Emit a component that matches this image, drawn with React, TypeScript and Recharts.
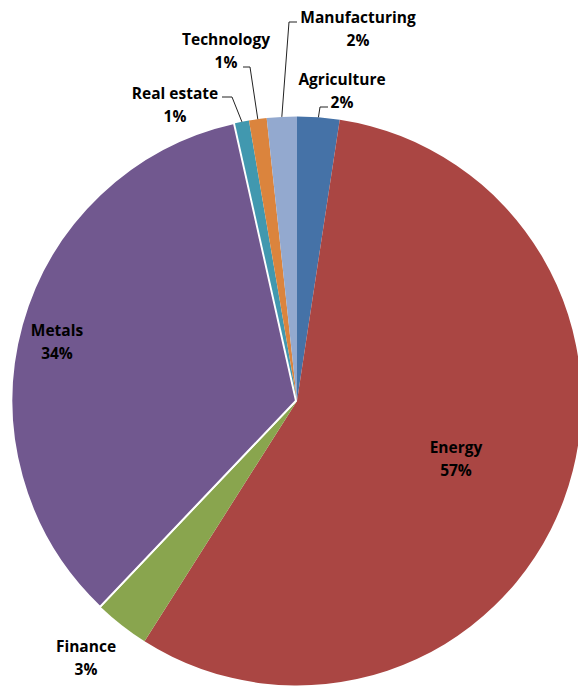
import React from 'react';
import { PieChart, Pie, Cell } from 'recharts';

const sectors = ['Agriculture', 'Energy', 'Finance', 'Metals', 'Real estate', 'Technology', 'Manufacturing'];
const shares = [2.4, 56.6, 3.1, 34.4, 0.8, 1.0, 1.7];
const colors = ['#4572A7', '#AA4643', '#89A54E', '#71588F', '#4198AF', '#DB843D', '#93A9CF'];

const data = sectors.map((name, i) => ({ name, value: shares[i] }));

// label layout (text centres and leader elbows)
const LABEL_LAYOUT: Record<string, { x: number; y: number; line?: [number, number][] }> = {
  Agriculture: { x: 342, y: 79, line: [[320, 107], [328, 107]] },
  Energy: { x: 456, y: 447 },
  Finance: { x: 86, y: 646 },
  Metals: { x: 57, y: 330 },
  'Real estate': { x: 175, y: 93, line: [[232, 97], [222, 97]] },
  Technology: { x: 226, y: 39, line: [[250, 67], [243, 67]] },
  Manufacturing: { x: 358, y: 17, line: [[289, 22], [297, 22]] },
};

const EXPLODE: Record<string, string> = { Metals: 'translate(-1,-0.3)' };

const FONT = '"Open Sans", sans-serif';

const renderLabel = (props: any) => {
  const { cx, cy, midAngle, outerRadius, percent, name } = props;
  const lay = LABEL_LAYOUT[name];
  if (!lay) return null;
  const rad = (-midAngle * Math.PI) / 180;
  const ax = cx + outerRadius * Math.cos(rad);
  const ay = cy + outerRadius * Math.sin(rad);
  const pts = lay.line ? [[ax, ay], ...lay.line] : null;
  return (
    <g>
      {pts && (
        <polyline
          points={pts.map((p) => p.join(',')).join(' ')}
          fill="none"
          stroke="#222"
          strokeWidth={1}
        />
      )}
      <text
        x={lay.x}
        y={lay.y}
        textAnchor="middle"
        dominantBaseline="central"
        fontFamily={FONT}
        fontWeight={700}
        fontSize={15.5}
        fill="#000"
      >
        {name}
      </text>
      <text
        x={lay.x}
        y={lay.y + 23}
        textAnchor="middle"
        dominantBaseline="central"
        fontFamily={FONT}
        fontWeight={700}
        fontSize={15.5}
        fill="#000"
      >
        {`${Math.round(percent * 100)}%`}
      </text>
    </g>
  );
};

export default function App() {
  return (
    <div style={{ position: 'fixed', left: 0, top: 0, width: 578, height: 687, background: '#fff' }}>
      <PieChart width={578} height={687} margin={{ top: 0, right: 0, bottom: 0, left: 0 }}>
        <Pie
          data={data}
          dataKey="value"
          nameKey="name"
          cx={297}
          cy={401}
          outerRadius={284.5}
          startAngle={90}
          endAngle={-270}
          stroke="none"
          label={renderLabel}
          labelLine={false}
          isAnimationActive={false}
        >
          {data.map((d, i) => (
            <Cell
              key={d.name}
              fill={colors[i]}
              transform={EXPLODE[d.name]}
              stroke={EXPLODE[d.name] ? '#fff' : 'none'}
              strokeWidth={EXPLODE[d.name] ? 2 : 0}
            />
          ))}
        </Pie>
      </PieChart>
    </div>
  );
}
